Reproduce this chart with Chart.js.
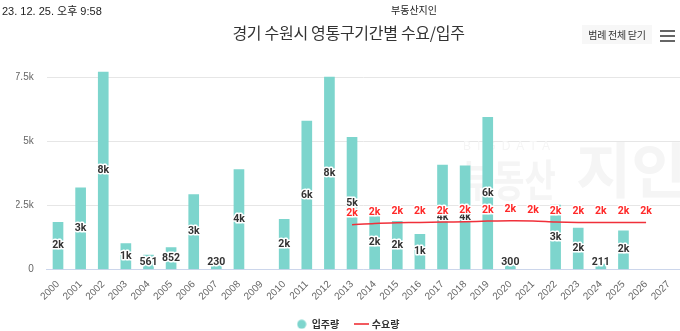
<!DOCTYPE html>
<html><head><meta charset="utf-8">
<script src="https://cdn.jsdelivr.net/npm/chart.js@4/dist/chart.umd.min.js"></script>
<style>
html,body{margin:0;padding:0;background:#fff;width:680px;height:331px;overflow:hidden;}
#wrap{position:relative;width:680px;height:331px;font-family:"Liberation Sans","Noto Sans CJK KR",sans-serif;}
canvas{position:absolute;left:0;top:0;}
.hd{position:absolute;white-space:nowrap;color:#222;}
.bar{position:absolute;left:660px;width:15px;height:2.4px;background:#666;}
</style></head><body>
<div id="wrap">
<canvas id="c" width="680" height="331"></canvas>
<div class="hd" style="left:2px;top:2px;font-size:11px;">23. 12. 25. 오후 9:58</div>
<div class="hd" style="left:391px;top:2px;font-size:10px;font-family:'Noto Sans CJK KR',sans-serif;">부동산지인</div>
<div class="hd" style="left:222px;top:20px;width:253px;text-align:center;font-size:16px;letter-spacing:-0.3px;color:#333;font-family:'Noto Sans CJK KR',sans-serif;">경기 수원시 영통구기간별 수요/입주</div>
<div class="hd" style="left:582px;top:25px;width:70px;height:19px;line-height:19px;background:#f7f7f7;text-align:center;font-size:10px;letter-spacing:-0.3px;color:#333;font-family:'Noto Sans CJK KR',sans-serif;">범례 전체 닫기</div>
<div class="bar" style="top:30px"></div>
<div class="bar" style="top:35px"></div>
<div class="bar" style="top:40px"></div>
</div>
<script>
const years = ['2000','2001','2002','2003','2004','2005','2006','2007','2008','2009','2010','2011','2012','2013','2014','2015','2016','2017','2018','2019','2020','2021','2022','2023','2024','2025','2026','2027'];
const supply = [1840,3190,7720,1010,561,852,2930,230,3900,null,1960,5800,7520,5170,2110,1880,1370,4080,4050,5950,300,null,2520,1615,211,1510,null,null];
const demand = [null,null,null,null,null,null,null,null,null,null,null,null,null,1750,1800,1827,1839,1851,1867,1890,1906,1898,1859,1839,1839,1839,1839,null];
const yTicks = [0,2500,5000,7500];
const yTickLabels = ['0','2.5k','5k','7.5k'];
const legendNames = ['입주량','수요량'];

const teal = '#7dd5cd';
const red = '#f0303a';

function fmt(v){ return v < 1000 ? String(v) : Math.round(v/1000) + 'k'; }

function mkCircle(){ const c=document.createElement('canvas'); c.width=10;c.height=10; const x=c.getContext('2d'); x.fillStyle=teal; x.beginPath(); x.arc(5,5,4.5,0,Math.PI*2); x.fill(); return c; }
function mkLine(){ const c=document.createElement('canvas'); c.width=15;c.height=2; const x=c.getContext('2d'); x.fillStyle='#f25a5f'; x.fillRect(0,0,15,2); return c; }

function drawLabel(ctx, text, x, y, color){
  ctx.save();
  ctx.font = 'bold 10.5px Roboto, "Noto Sans CJK KR", sans-serif';
  ctx.textAlign = 'center'; ctx.textBaseline = 'middle';
  ctx.lineJoin = 'round'; ctx.lineWidth = 3; ctx.strokeStyle = '#fff';
  ctx.strokeText(text, x, y);
  ctx.fillStyle = color; ctx.fillText(text, x, y);
  ctx.restore();
}

const labelPlugin = {
  id: 'labels',
  beforeDatasetsDraw(chart){
    const ctx = chart.ctx; ctx.save();
    ctx.fillStyle = '#f5f5f5';
    ctx.font = '12px "Liberation Sans", sans-serif';
    ctx.textBaseline = 'middle';
    ctx.letterSpacing = '6px';
    ctx.fillText('BIGDATA', 463, 147);
    ctx.letterSpacing = '0px';
    ctx.save();
    ctx.translate(462, 180); ctx.scale(1, 1.3);
    ctx.font = 'bold 34px "Noto Sans CJK KR", sans-serif';
    ctx.fillText('부동산', 0, 0);
    ctx.restore();
    ctx.font = 'bold 60px "Noto Sans CJK KR", sans-serif';
    ctx.fillText('지인', 576, 170);
    ctx.restore();
  },
  afterDatasetDraw(chart, args){
    if (args.index !== 0) return;
    const meta = chart.getDatasetMeta(0);
    const bottom = chart.chartArea.bottom;
    meta.data.forEach((el, i) => {
      const v = supply[i]; if (v == null) return;
      let y = (el.y + el.base) / 2;
      y = Math.min(y, bottom - 7.5);
      drawLabel(chart.ctx, fmt(v), el.x, y, '#333');
    });
  },
  afterDatasetsDraw(chart){
    const meta = chart.getDatasetMeta(1);
    meta.data.forEach((el, i) => {
      const v = demand[i]; if (v == null) return;
      drawLabel(chart.ctx, fmt(v), el.x, el.y - 11, '#ff2a2a');
    });
  }
};

new Chart(document.getElementById('c'), {
  type: 'bar',
  data: {
    labels: years,
    datasets: [
      { type:'bar', label: legendNames[0], data: supply, backgroundColor: teal, barThickness: 10, order: 2, pointStyle: mkCircle() },
      { type:'line', label: legendNames[1], data: demand, borderColor: red, borderWidth: 1.5, pointRadius: 0, tension: 0.3, order: 1, spanGaps: false, pointStyle: mkLine(), fill:false }
    ]
  },
  options: {
    responsive: false, animation: false,
    layout: { padding: { top: 70, left: 16, right: 0, bottom: -8.2 } },
    plugins: {
      tooltip: { enabled: false },
      legend: {
        position: 'bottom',
        labels: {
          usePointStyle: true, pointStyleWidth: 10, boxHeight: 10, padding: 17.5,
          sort: (a, b) => a.datasetIndex - b.datasetIndex,
          color: '#333', font: { size: 10, weight: 'bold', family: '"Noto Sans CJK KR", sans-serif' }
        }
      }
    },
    scales: {
      x: {
        grid: { display: false },
        border: { display: true, color: '#ccd6eb', width: 1 },
        ticks: { autoSkip: false, maxRotation: 45, minRotation: 45, color: '#666', padding: 1, labelOffset: 0,
                 font: { size: 10, family: '"Liberation Sans", sans-serif' } },
        afterFit: s => { s.height = 32.3; }
      },
      y: {
        min: 0, max: 7800,
        afterBuildTicks: s => { s.ticks = yTicks.map(v => ({ value: v })); },
        grid: { color: '#e6e6e6', drawTicks: false },
        border: { display: false },
        ticks: { padding: 13, color: '#666', font: { size: 10, family: '"Liberation Sans", sans-serif' },
                 callback: v => yTickLabels[yTicks.indexOf(v)] },
        afterFit: s => { s.width = 30.7; }
      }
    }
  },
  plugins: [labelPlugin]
});
</script>
</body></html>
